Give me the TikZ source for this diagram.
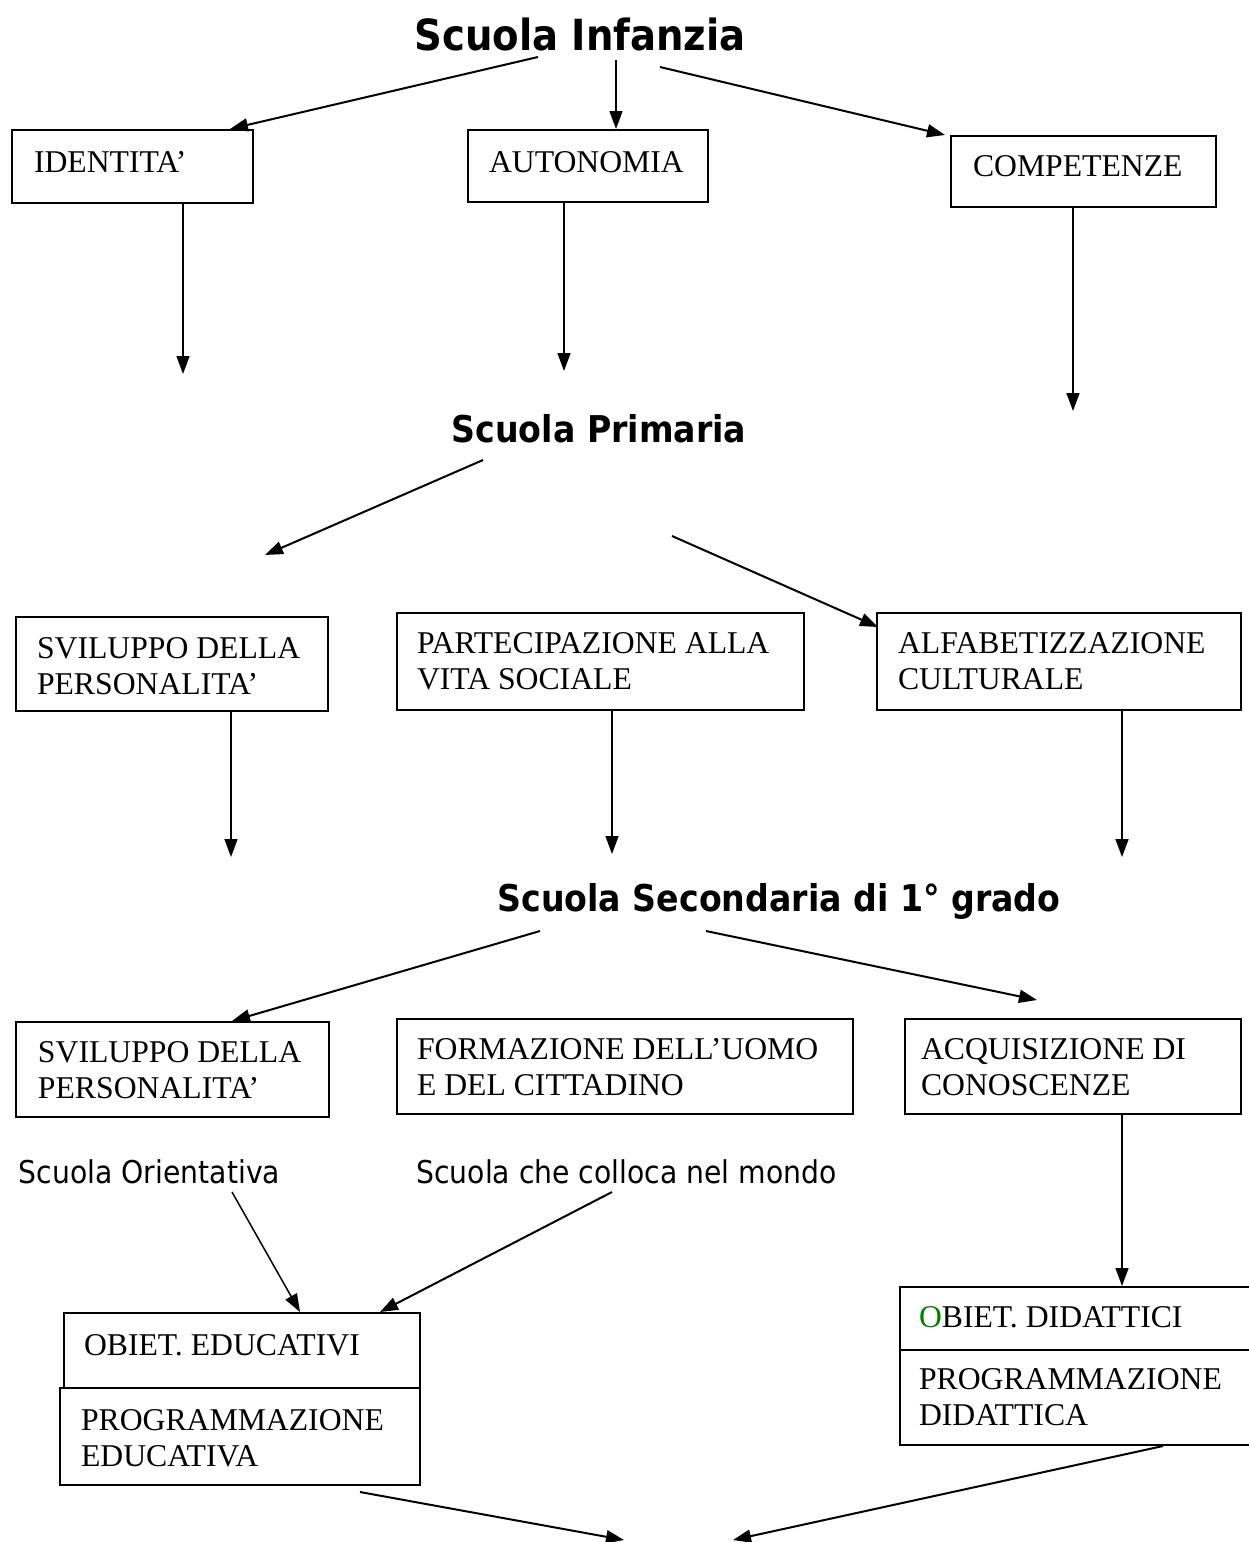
\documentclass[tikz,border=0pt]{standalone}
\usepackage{fontspec}
\setmainfont{Liberation Serif}
\newfontfamily\hdfont[FakeStretch=0.9]{DejaVu Sans}
\usetikzlibrary{arrows.meta}
\definecolor{objgreen}{RGB}{0,128,0}

% box body: width, height, top padding, left padding, text
\newcommand\pbody[5]{\parbox[t][#2][t]{#1}{\vspace*{#3}\parindent=0pt\leftskip=#4\rightskip=0pt plus 1fil\relax\rule{0pt}{22pt}#5}}

\begin{document}
\begin{tikzpicture}[x=1pt,y=-1pt,
  panel/.style={draw, line width=2pt, inner sep=0pt, anchor=north west,
    font=\fontsize{31.7}{36.5}\selectfont},
  hdA/.style={inner sep=0pt, anchor=base, font=\hdfont\bfseries\fontsize{42.9}{50}\selectfont},
  hdB/.style={inner sep=0pt, anchor=base, font=\hdfont\bfseries\fontsize{36.9}{44}\selectfont},
  lbl/.style={inner sep=0pt, anchor=base, font=\hdfont\fontsize{31.4}{38}\selectfont},
  arr/.style={line width=2pt, -{Triangle[length=18pt,width=13pt]}},
  varr/.style={line width=1.5pt, -{Triangle[length=18pt,width=13pt]}}]
\useasboundingbox (0,0) rectangle (1248,1542);

% headings
\node[hdA] (si) at (580,50) {Scuola Infanzia};
\node[hdB] (sp) at (599,442) {Scuola Primaria};
\node[hdB] (ss) at (779,911) {Scuola Secondaria di 1° grado};
\node[lbl] (so) at (149.5,1183) {Scuola Orientativa};
\node[lbl] (sc) at (626.5,1183) {Scuola che colloca nel mondo};

% first row
\node[panel] (id) at (11,129) {\pbody{241pt}{73pt}{20pt}{22pt}{IDENTITA’}};
\node[panel] (au) at (467,129) {\pbody{240pt}{72pt}{20pt}{21pt}{AUTONOMIA}};
\node[panel] (co) at (950,135) {\pbody{265pt}{71pt}{18pt}{22pt}{COMPETENZE}};

% second row
\node[panel] (sva) at (15,616) {\pbody{312pt}{94pt}{19pt}{21pt}{SVILUPPO DELLA\\PERSONALITA’}};
\node[panel] (pa) at (396,612) {\pbody{407pt}{97pt}{18pt}{20pt}{PARTECIPAZIONE ALLA\\VITA SOCIALE}};
\node[panel] (al) at (876,612) {\pbody{364pt}{97pt}{18pt}{21pt}{ALFABETIZZAZIONE\\CULTURALE}};

% third row
\node[panel] (svb) at (15,1021) {\pbody{313pt}{95pt}{18pt}{22pt}{SVILUPPO DELLA\\PERSONALITA’}};
\node[panel] (fo) at (396,1018) {\pbody{456pt}{95pt}{18pt}{20pt}{FORMAZIONE DELL’UOMO\\E DEL CITTADINO}};
\node[panel] (ac) at (904,1018) {\pbody{336pt}{95pt}{18pt}{16pt}{ACQUISIZIONE DI\\CONOSCENZE}};

% objectives and programmes
\node[panel] (ed) at (63,1312) {\pbody{356pt}{75pt}{20pt}{20pt}{OBIET. EDUCATIVI}};
\node[panel] (pe) at (59,1387) {\pbody{360pt}{97pt}{20pt}{21pt}{PROGRAMMAZIONE\\EDUCATIVA}};
\node[panel] (di) at (899,1286) {\pbody{360pt}{63pt}{18pt}{19pt}{\textcolor{objgreen}{O}BIET. DIDATTICI}};
\node[panel] (pd) at (899,1349) {\pbody{360pt}{95pt}{17pt}{19pt}{PROGRAMMAZIONE\\DIDATTICA}};

% connectors from Scuola Infanzia
\coordinate (si1) at (538,57);
\coordinate (si2) at (616,60);
\coordinate (si3) at (660,67);
\coordinate (k1) at (230,0);
\coordinate (k3) at (945,0);
\draw[arr] (si1) -- (k1 |- id.north);
\draw[varr] (si2) -- (si2 |- au.north);
\draw[arr] (si3) -- (k3 |- co.north);

\coordinate (d1) at (183,374);
\coordinate (d2) at (564,371);
\coordinate (d3) at (1073,411);
\draw[varr] (d1 |- id.south) -- (d1);
\draw[varr] (d2 |- au.south) -- (d2);
\draw[varr] (d3 |- co.south) -- (d3);

% connectors from Scuola Primaria
\coordinate (p1) at (483,460);
\coordinate (p1e) at (265,555);
\coordinate (p2) at (672,536);
\coordinate (p2e) at (878,627);
\draw[arr] (p1) -- (p1e);
\draw[arr] (p2) -- (p2e);

\coordinate (d4) at (231,857);
\coordinate (d5) at (612,854);
\coordinate (d6) at (1122,857);
\draw[varr] (d4 |- sva.south) -- (d4);
\draw[varr] (d5 |- pa.south) -- (d5);
\draw[varr] (d6 |- al.south) -- (d6);

% connectors from Scuola Secondaria
\coordinate (s1) at (540,931);
\coordinate (k4) at (232,0);
\coordinate (s2) at (706,931);
\coordinate (s2e) at (1037,1000);
\draw[arr] (s1) -- (k4 |- svb.north);
\draw[arr] (s2) -- (s2e);

% towards the objectives
\coordinate (o1) at (232,1192);
\coordinate (o2) at (612,1192);
\coordinate (k5) at (300,0);
\coordinate (k6) at (380,0);
\draw[varr] (o1) -- (k5 |- ed.north);
\draw[arr] (o2) -- (k6 |- ed.north);
\coordinate (d7) at (1122,0);
\draw[varr] (d7 |- ac.south) -- (d7 |- di.north);

% final converging connectors
\coordinate (f1) at (360,1492);
\coordinate (fin1) at (624,1540);
\coordinate (k7) at (1163,0);
\coordinate (fin2) at (733,1540);
\draw[arr] (f1) -- (fin1);
\draw[arr] (k7 |- pd.south) -- (fin2);
\end{tikzpicture}
\end{document}
